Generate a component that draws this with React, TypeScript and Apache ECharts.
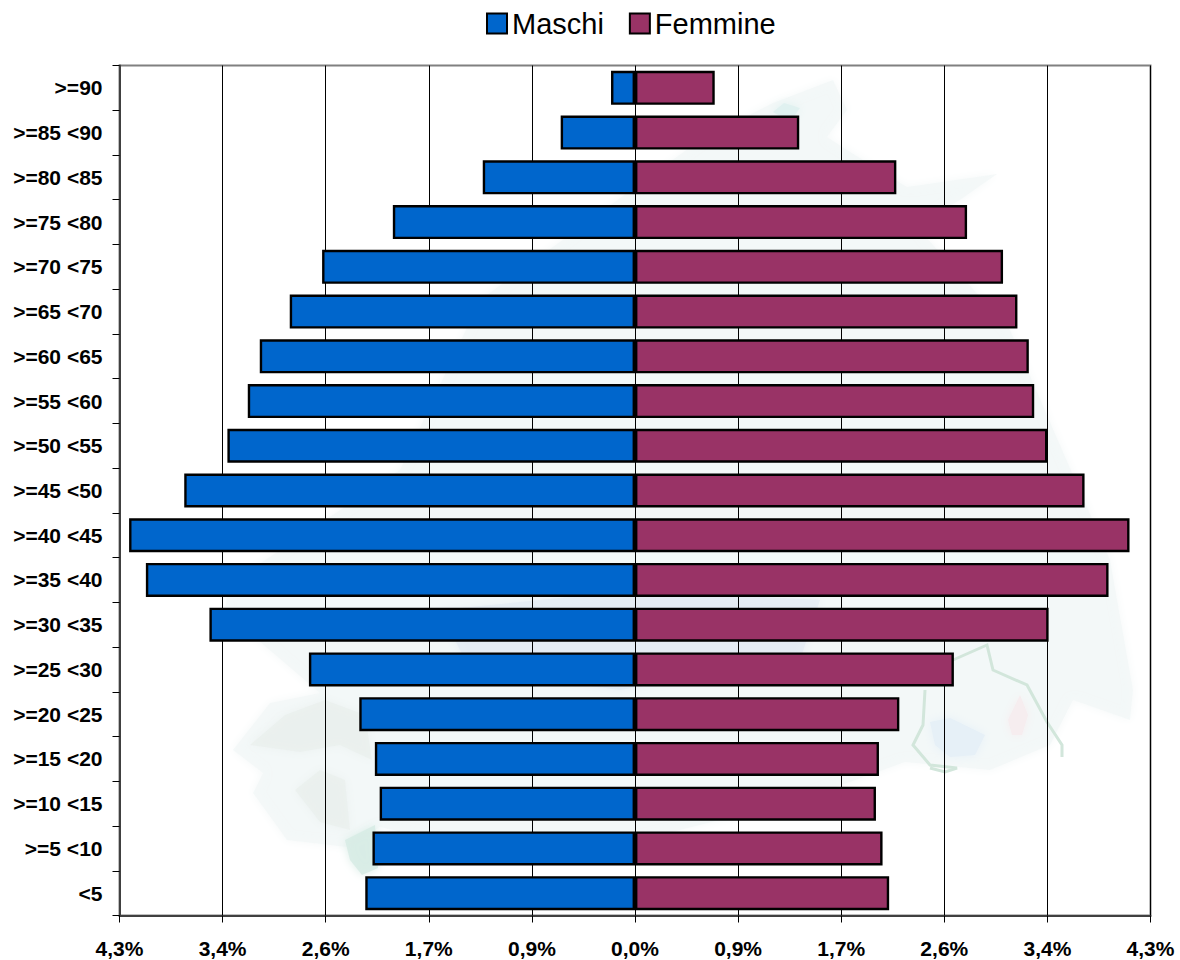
import React, { useEffect, useRef } from "react";
import * as echarts from "echarts";

// Age bands, listed from the oldest (top of the pyramid) to the youngest.
const ageBands = [
  ">=90", ">=85 <90", ">=80 <85", ">=75 <80", ">=70 <75", ">=65 <70", ">=60 <65",
  ">=55 <60", ">=50 <55", ">=45 <50", ">=40 <45", ">=35 <40", ">=30 <35", ">=25 <30",
  ">=20 <25", ">=15 <20", ">=10 <15", ">=5 <10", "<5",
];

// Share of the population, in percent.
const maschi = [
  0.2, 0.62, 1.27, 2.02, 2.61, 2.88, 3.13, 3.23, 3.4, 3.76,
  4.22, 4.08, 3.55, 2.72, 2.3, 2.17, 2.13, 2.19, 2.25,
];
const femmine = [
  0.665, 1.37, 2.18, 2.77, 3.07, 3.19, 3.285, 3.33, 3.44, 3.75,
  4.125, 3.95, 3.45, 2.66, 2.205, 2.035, 2.01, 2.065, 2.12,
];

const AXIS_LIMIT = 4.3;
const AXIS_STEP = 0.86;

const FONT = '"Liberation Sans", Arial, sans-serif';

// Faint map printed behind the plot: [fill, opacity, points].
const mapAreas: [string, number, number[][]][] = [
  ["#f3f7f7", 0.8, [[233, 750], [270, 703], [320, 693], [225, 612], [228, 585], [400, 470], [480, 300], [700, 140], [773, 103], [833, 80], [847, 110], [827, 137], [847, 150], [907, 187], [997, 174], [960, 200], [915, 225], [1010, 330], [1110, 560], [1133, 690], [1130, 720], [1073, 700], [1050, 745], [990, 770], [905, 762], [800, 800], [640, 840], [480, 850], [380, 827], [347, 847], [287, 840], [253, 793], [263, 773]]],
  ["#e9efed", 0.7, [[250, 745], [285, 715], [325, 700], [365, 715], [372, 760], [340, 745], [300, 752]]],
  ["#e9efed", 0.7, [[295, 790], [320, 770], [345, 780], [350, 830], [320, 822]]],
  ["#d8ece5", 0.9, [[345, 840], [375, 825], [378, 868], [362, 875], [350, 860]]],
  ["#dff1ef", 0.9, [[773, 112], [784, 103], [800, 108], [790, 122]]],
  ["#e6f0f7", 1, [[930, 722], [950, 718], [985, 735], [975, 755], [950, 757], [935, 745]]],
  ["#f6edef", 1, [[1008, 720], [1020, 695], [1028, 715], [1022, 735], [1012, 735]]],
  ["#e3ebf3", 0.7, [[440, 610], [640, 590], [820, 600], [800, 660], [620, 690], [470, 670]]],
];
const mapRivers: number[][][] = [
  [[953, 660], [987, 645], [993, 670], [1027, 685], [1047, 722], [1062, 745], [1062, 757]],
  [[925, 690], [923, 725], [913, 745], [930, 765], [957, 768], [945, 772], [930, 768]],
];

export default function App() {
  const ref = useRef<HTMLDivElement>(null);

  useEffect(() => {
    document.body.style.margin = "0";
    const chart = echarts.init(ref.current!, undefined, { renderer: "svg" });

    const backdrop: any[] = [
      ...mapAreas.map(([fill, opacity, points]) => ({
        type: "polygon",
        z: -10,
        silent: true,
        shape: { points },
        style: { fill, opacity, shadowBlur: 10, shadowColor: fill },
      })),
      ...mapRivers.map((points) => ({
        type: "polyline",
        z: -9,
        silent: true,
        shape: { points },
        style: { stroke: "#d2e6db", lineWidth: 3, fill: "none" },
      })),
    ];

    chart.setOption({
      animation: false,
      backgroundColor: "#ffffff",
      textStyle: { fontFamily: FONT },
      graphic: { elements: backdrop },
      legend: {
        top: 4,
        left: 481,
        icon: "rect",
        itemWidth: 20,
        itemHeight: 20,
        itemGap: 25,
        textStyle: { fontFamily: FONT, fontSize: 29, color: "#000000", padding: [2, 0, 0, 0] },
        data: ["Maschi", "Femmine"],
      },
      grid: {
        left: 119.5,
        right: 29.5,
        top: 65.5,
        bottom: 44.5,
        show: true,
        borderColor: "#808080",
        borderWidth: 2,
        backgroundColor: "transparent",
      },
      xAxis: {
        type: "value",
        position: "bottom",
        min: -AXIS_LIMIT,
        max: AXIS_LIMIT,
        interval: AXIS_STEP,
        axisLine: { show: true, onZero: false, lineStyle: { color: "#404040", width: 2 } },
        axisTick: { show: true, length: 7, lineStyle: { color: "#000000", width: 1 } },
        axisLabel: {
          margin: 22,
          fontFamily: FONT,
          fontSize: 21,
          fontWeight: "bold",
          color: "#000000",
          formatter: (v: number) => Math.abs(v).toFixed(1).replace(".", ",") + "%",
        },
        splitLine: { show: true, lineStyle: { color: "#000000", width: 1 } },
      },
      yAxis: {
        type: "category",
        inverse: true,
        position: "left",
        data: ageBands,
        axisLine: { show: true, onZero: false, lineStyle: { color: "#404040", width: 2 } },
        axisTick: { show: true, length: 7, lineStyle: { color: "#000000", width: 1 } },
        axisLabel: {
          margin: 17,
          fontFamily: FONT,
          fontSize: 21,
          fontWeight: "bold",
          color: "#000000",
          interval: 0,
        },
        splitLine: { show: false },
      },
      series: [
        {
          name: "Maschi",
          type: "bar",
          stack: "pyramid",
          barWidth: 34,
          data: maschi.map((v) => -v),
          itemStyle: { color: "#0066CC", borderColor: "#000000", borderWidth: 2.4 },
        },
        {
          name: "Femmine",
          type: "bar",
          stack: "pyramid",
          barWidth: 34,
          data: femmine,
          itemStyle: { color: "#993366", borderColor: "#000000", borderWidth: 2.4 },
        },
      ],
    });

    return () => chart.dispose();
  }, []);

  return <div ref={ref} style={{ width: 1180, height: 960 }} />;
}
